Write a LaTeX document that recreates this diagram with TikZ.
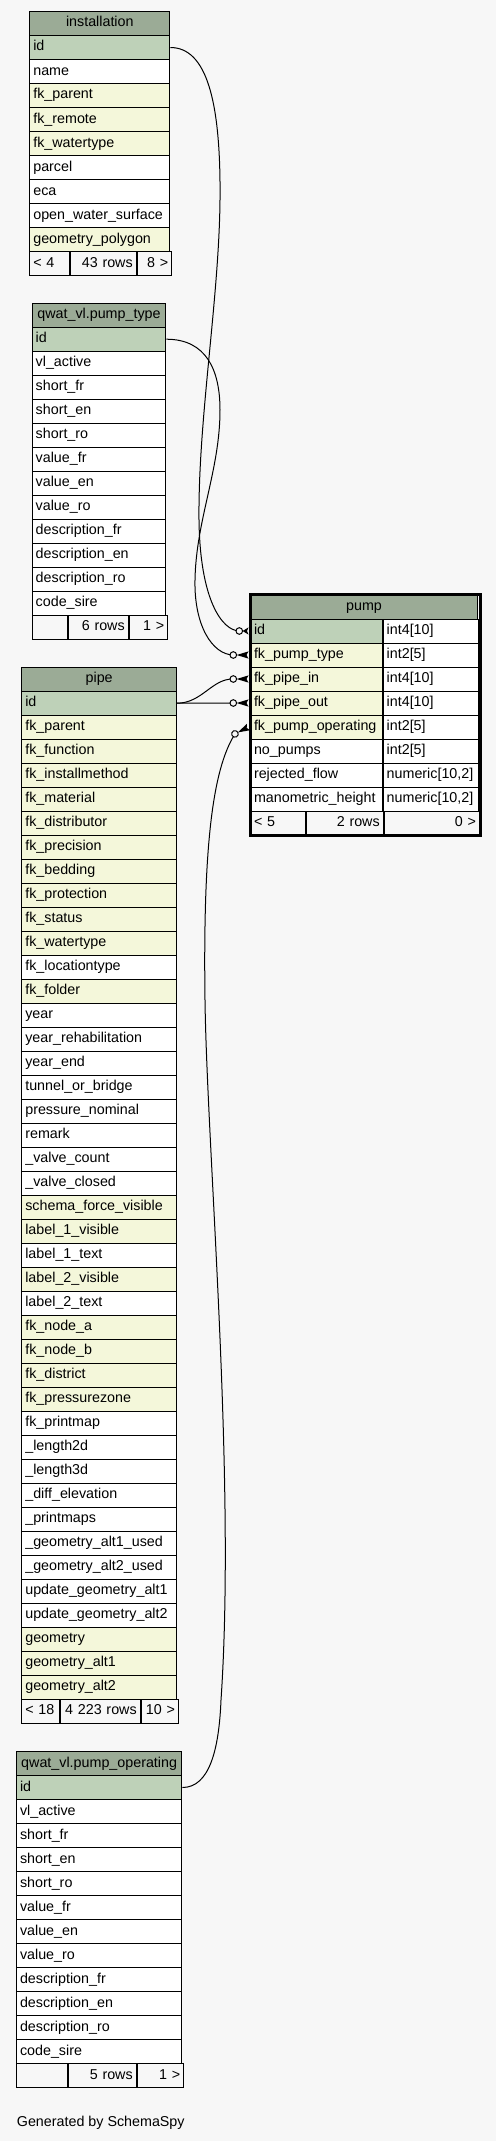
\documentclass[tikz,border=0pt]{standalone}
\usepackage{fontspec}
\setmainfont{Liberation Sans}
\hyphenpenalty=10000
\exhyphenpenalty=10000

\definecolor{pagebg}{HTML}{F7F7F7}
\definecolor{headgreen}{HTML}{9BAB96}
\definecolor{keygreen}{HTML}{BED1B8}
\definecolor{fkyellow}{HTML}{F4F7DA}
\newcommand\cellfont{\fontsize{14.3pt}{16pt}\selectfont}

\tikzset{
  cell/.style={draw=black, line width=1pt, anchor=north west, minimum height=24pt,
    inner xsep=3.5pt, inner ysep=0pt, text height=10.5pt, text depth=3.5pt, font=\cellfont},
  headrow/.style={cell, fill=headgreen, align=center},
  keyrow/.style={cell, fill=keygreen, align=left},
  fkrow/.style={cell, fill=fkyellow, align=left},
  plainrow/.style={cell, fill=white, align=left},
  footleft/.style={cell, fill=pagebg, align=left},
  footright/.style={cell, fill=pagebg, align=right},
  link/.style={line width=1pt},
  crowodot/.pic={
    \fill (-11.9,0) -- (0,-3.6) -- (-2,0) -- (0,3.6) -- cycle;
    \draw[line width=1pt, fill=pagebg] (-15.2,0) circle (3.3pt);
  },
  shortcrowodot/.pic={
    \fill (-5.9,0) -- (0,-3.6) -- (-1.5,0) -- (0,3.6) -- cycle;
    \draw[line width=1pt, fill=pagebg] (-9.2,0) circle (3.3pt);
  }
}

\begin{document}
\begin{tikzpicture}[x=1pt, y=-1pt]
  \fill[pagebg] (0,0) rectangle (496,2141);
  \useasboundingbox (0,0) rectangle (496,2141);

  % installation
  \node[headrow, text width=133pt] (inst) at (29.3,11) {installation};
  \foreach \col/\kind [count=\i] in {id/keyrow, name/plainrow, fk\_parent/fkrow,
      fk\_remote/fkrow, fk\_watertype/fkrow, parcel/plainrow, eca/plainrow,
      open\_water\_surface/plainrow, geometry\_polygon/fkrow}
    \node[\kind, text width=133pt] (inst-\i) at (29.3,{11+24*\i}) {\col};
  \node[footleft, text width=33pt] (inst-prev) at (29.3,251) {< 4};
  \node[footright, text width=58.4pt] (inst-rows) at (inst-prev.north east) {43 rows};
  \node[footright, text width=27.6pt] (inst-next) at (inst-rows.north east) {8 >};

  % qwat_vl.pump_type
  \node[headrow, text width=126.6pt] (ptype) at (31.7,302.7) {qwat\_vl.pump\_type};
  \foreach \col/\kind [count=\i] in {id/keyrow, vl\_active/plainrow, short\_fr/plainrow,
      short\_en/plainrow, short\_ro/plainrow, value\_fr/plainrow, value\_en/plainrow,
      value\_ro/plainrow, description\_fr/plainrow, description\_en/plainrow,
      description\_ro/plainrow, code\_sire/plainrow}
    \node[\kind, text width=126.6pt] (ptype-\i) at (31.7,{302.7+24*\i}) {\col};
  \node[footleft, text width=28pt] (ptype-prev) at (31.7,614.7) {};
  \node[footright, text width=53pt] (ptype-rows) at (ptype-prev.north east) {6 rows};
  \node[footright, text width=31.6pt] (ptype-next) at (ptype-rows.north east) {1 >};

  % pipe
  \node[headrow, text width=147.7pt] (pipe) at (21.3,666.7) {pipe};
  \foreach \col/\kind [count=\i] in {id/keyrow, fk\_parent/fkrow, fk\_function/fkrow,
      fk\_installmethod/fkrow, fk\_material/fkrow, fk\_distributor/fkrow,
      fk\_precision/fkrow, fk\_bedding/fkrow, fk\_protection/fkrow, fk\_status/fkrow,
      fk\_watertype/fkrow, fk\_locationtype/plainrow, fk\_folder/fkrow, year/plainrow,
      year\_rehabilitation/plainrow, year\_end/plainrow, tunnel\_or\_bridge/plainrow,
      pressure\_nominal/plainrow, remark/plainrow, \_valve\_count/plainrow,
      \_valve\_closed/plainrow, schema\_force\_visible/fkrow, label\_1\_visible/fkrow,
      label\_1\_text/plainrow, label\_2\_visible/fkrow, label\_2\_text/plainrow,
      fk\_node\_a/fkrow, fk\_node\_b/fkrow, fk\_district/fkrow, fk\_pressurezone/fkrow,
      fk\_printmap/plainrow, \_length2d/plainrow, \_length3d/plainrow,
      \_diff\_elevation/plainrow, \_printmaps/plainrow, \_geometry\_alt1\_used/plainrow,
      \_geometry\_alt2\_used/plainrow, update\_geometry\_alt1/plainrow,
      update\_geometry\_alt2/plainrow, geometry/fkrow, geometry\_alt1/fkrow,
      geometry\_alt2/fkrow}
    \node[\kind, text width=147.7pt] (pipe-\i) at (21.3,{666.7+24*\i}) {\col};
  \node[footleft, text width=30.4pt] (pipe-prev) at (21.3,1698.7) {< 18};
  \node[footright, text width=73pt] (pipe-rows) at (pipe-prev.north east) {4 223 rows};
  \node[footright, text width=30.3pt] (pipe-next) at (pipe-rows.north east) {10 >};

  % qwat_vl.pump_operating
  \node[headrow, text width=158.3pt] (pop) at (16,1751) {qwat\_vl.pump\_operating};
  \foreach \col/\kind [count=\i] in {id/keyrow, vl\_active/plainrow, short\_fr/plainrow,
      short\_en/plainrow, short\_ro/plainrow, value\_fr/plainrow, value\_en/plainrow,
      value\_ro/plainrow, description\_fr/plainrow, description\_en/plainrow,
      description\_ro/plainrow, code\_sire/plainrow}
    \node[\kind, text width=158.3pt] (pop-\i) at (16,{1751+24*\i}) {\col};
  \node[footleft, text width=43.7pt] (pop-prev) at (16,2063) {};
  \node[footright, text width=61pt] (pop-rows) at (pop-prev.north east) {5 rows};
  \node[footright, text width=39.6pt] (pop-next) at (pop-rows.north east) {1 >};

  % pump
  \node[headrow, text width=220pt] (pump) at (250,594.5) {pump};
  \foreach \col/\typ/\kind [count=\i] in {id/int4[10]/keyrow,
      fk\_pump\_type/int2[5]/fkrow, fk\_pipe\_in/int4[10]/fkrow,
      fk\_pipe\_out/int4[10]/fkrow, fk\_pump\_operating/int2[5]/fkrow,
      no\_pumps/int2[5]/plainrow, rejected\_flow/{numeric[10,2]}/plainrow,
      manometric\_height/{numeric[10,2]}/plainrow}{
    \node[\kind, text width=124.7pt] (pump-\i) at (250,{594.5+24*\i}) {\col};
    \node[plainrow, text width=88.3pt] (pump-\i-type) at (pump-\i.north east) {\typ};
  }
  \node[footleft, text width=48pt] (pump-prev) at (250,810.5) {< 5};
  \node[footright, text width=69.7pt] (pump-rows) at (pump-prev.north east) {2 rows};
  \node[footright, text width=88.3pt] (pump-next) at (pump-rows.north east) {0 >};
  \draw[line width=3pt] (pump.north west) rectangle (pump-next.south east);

  % foreign keys
  \draw[link] (inst-1.east) .. controls +(36,0) and (221,100) .. (220,200)
    .. controls (219,300) and (198,420) .. (199,520)
    .. controls (200,600) and (222,630.5) .. ([xshift=-10.7pt]pump-1.west);
  \draw[link] (ptype-1.east) .. controls +(40,0) and (220,370) .. (220,410)
    .. controls (220,470) and (196,520) .. (195,580)
    .. controls (194,625) and (212,654.5) .. ([xshift=-16.7pt]pump-2.west);
  \draw[link] (pipe-1.east) .. controls +(25,0) and (212,678.5) .. ([xshift=-16.7pt]pump-3.west);
  \draw[link] (pipe-1.east) -- ([xshift=-16.7pt]pump-4.west);
  \draw[link] (pop-1.east) .. controls +(27,0) and (219,1750) .. (221,1700)
    .. controls (236,1480) and (207,1150) .. (205,1000)
    .. controls (203,850) and (212,770) .. ([shift={(-15pt,-6.9pt)}]pump-5.west);

  \pic at ([xshift=-1.5pt]pump-1.west) {shortcrowodot};
  \pic at ([xshift=-1.5pt]pump-2.west) {crowodot};
  \pic at ([xshift=-1.5pt]pump-3.west) {crowodot};
  \pic at ([xshift=-1.5pt]pump-4.west) {crowodot};
  \pic[rotate=27] at ([xshift=-1.5pt]pump-5.west) {crowodot};

  \node[anchor=base west, inner sep=0pt, font=\cellfont] (credit) at (16.7,2126) {Generated by SchemaSpy};
\end{tikzpicture}
\end{document}
